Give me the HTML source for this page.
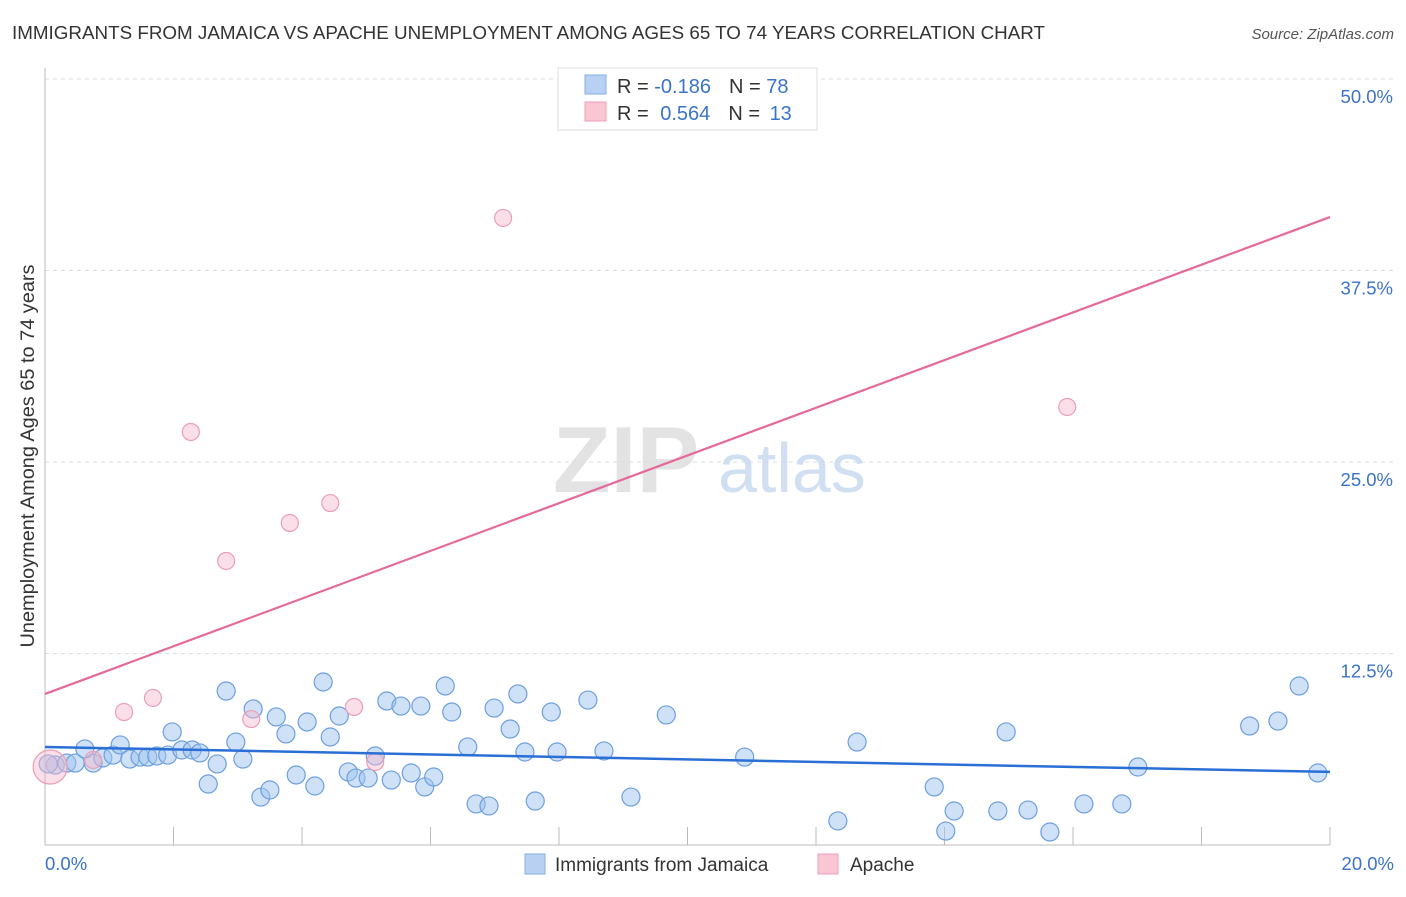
<!DOCTYPE html>
<html><head><meta charset="utf-8"><style>
body{margin:0;background:#fff;font-family:"Liberation Sans",sans-serif;}
svg text{font-family:"Liberation Sans",sans-serif;}
</style></head><body>
<svg id="chart" width="1406" height="892" viewBox="0 0 1406 892" xmlns="http://www.w3.org/2000/svg">
<text x="12" y="39" font-size="18.5" fill="#333" textLength="1033" lengthAdjust="spacingAndGlyphs">IMMIGRANTS FROM JAMAICA VS APACHE UNEMPLOYMENT AMONG AGES 65 TO 74 YEARS CORRELATION CHART</text>
<text x="1394" y="39" font-size="15" fill="#555" text-anchor="end" font-style="italic">Source: ZipAtlas.com</text>
<g id="grid"></g>
<text x="553" y="492" font-size="94" fill="#ddd" font-family="Liberation Serif" font-weight="bold" opacity="0.8">ZIP</text>
<text x="718" y="492" font-size="70" fill="#c6d8ef" opacity="0.8">atlas</text>
<text transform="translate(34,456) rotate(-90)" font-size="19" fill="#333" text-anchor="middle" textLength="383" lengthAdjust="spacingAndGlyphs">Unemployment Among Ages 65 to 74 years</text>
<g id="marks"></g>
<g>
<rect x="558" y="68" width="259" height="62" fill="#fff" stroke="#ddd"/>
<rect x="585" y="75" width="21" height="19" fill="#b8d1f3" stroke="#86aee6"/>
<rect x="585" y="102" width="21" height="19" fill="#f9c6d4" stroke="#ee9fb7"/>
<text x="617" y="93" font-size="20" fill="#333">R = <tspan fill="#3b73c9">-0.186</tspan><tspan dx="18">N = </tspan><tspan fill="#3b73c9">78</tspan></text>
<text x="617" y="120" font-size="20" fill="#333">R = <tspan fill="#3b73c9" dx="6">0.564</tspan><tspan dx="18">N = </tspan><tspan fill="#3b73c9" dx="4">13</tspan></text>
</g>
<g>
<rect x="525" y="854" width="20" height="20" fill="#b8d1f3" stroke="#86aee6"/>
<text x="555" y="871" font-size="19" fill="#333">Immigrants from Jamaica</text>
<rect x="818" y="854" width="20" height="20" fill="#f9c6d4" stroke="#ee9fb7"/>
<text x="850" y="871" font-size="19" fill="#333">Apache</text>
</g>
</svg>
<script>
const yTicks=[12.5,25,37.5,50];
const yTickLabels=["12.5%","25.0%","37.5%","50.0%"];
const xTickLabels=["0.0%","20.0%"];
const jamaicaX=[0.16,0.34,0.47,0.75,0.90,1.06,0.62,1.17,1.32,1.48,1.60,1.74,1.91,2.13,2.29,2.41,1.98,2.54,2.68,2.82,2.97,3.08,3.24,3.36,3.50,3.60,3.75,3.91,4.08,4.20,4.33,4.44,4.58,4.72,4.84,5.03,5.14,5.32,5.39,5.54,5.70,5.85,5.91,6.05,6.23,6.33,6.58,6.71,6.91,6.99,7.24,7.36,7.47,7.63,7.88,7.97,8.45,8.70,9.12,9.67,10.89,12.34,12.64,13.84,14.02,14.15,14.83,14.96,15.30,15.64,16.17,16.76,17.01,18.75,19.19,19.52,19.81,0.05];
const jamaicaY=[5.22,5.35,5.35,5.35,5.68,5.87,6.27,6.53,5.61,5.74,5.74,5.81,5.87,6.20,6.20,6.01,7.38,3.98,5.29,10.05,6.72,5.61,8.88,3.13,3.59,8.36,7.25,4.57,8.03,3.85,10.64,7.05,8.42,4.77,4.37,4.37,5.81,9.40,4.24,9.07,4.70,9.07,3.79,4.44,10.38,8.68,6.40,2.68,2.55,8.94,7.57,9.86,6.07,2.87,8.68,6.07,9.46,6.14,3.13,8.49,5.74,1.57,6.72,3.79,0.91,2.22,2.22,7.38,2.28,0.85,2.68,2.68,5.09,7.77,8.09,10.38,4.70,5.29];
const apacheX=[0.08,0.75,1.23,1.68,2.27,2.82,3.21,3.81,4.44,4.81,5.14,7.13,15.91];
const apacheY=[5.09,5.55,8.68,9.60,26.96,18.54,8.22,21.02,22.32,9.01,5.42,40.93,28.59];
const jamaicaTrend=[6.4,4.77];
const apacheTrend=[9.86,40.99];
const X0=45,X1=1330,Y0=845,Y1=79;
const sx=v=>X0+(v/20)*(X1-X0);
const sy=v=>Y0-(v/50)*(Y0-Y1);
const NS="http://www.w3.org/2000/svg";
const grid=document.getElementById('grid'),marks=document.getElementById('marks');
function mk(tag,attrs,parent){const e=document.createElementNS(NS,tag);for(const k in attrs)e.setAttribute(k,attrs[k]);parent.appendChild(e);return e;}
yTicks.forEach((t,i)=>{
 const l=mk('line',{x1:X0,x2:1394,y1:sy(t),y2:sy(t),stroke:'#ddd','stroke-dasharray':'4,4'},grid);
 
 
 const tx=mk('text',{x:1393,y:sy(t)+24,'font-size':18.5,fill:'#3b73c9','text-anchor':'end'},grid);
 tx.textContent=yTickLabels[i];
 
 
});
const ax=mk('line',{x1:X0,x2:X0,y1:68,y2:Y0,stroke:'#bbb'},grid);


const bx=mk('line',{x1:X0,x2:X1,y1:Y0,y2:Y0,stroke:'#bbb'},grid);


for(let i=1;i<=10;i++){
 const t=mk('line',{x1:sx(i*2),x2:sx(i*2),y1:Y0-18,y2:Y0,stroke:'#bbb'},grid);
 
 
}
[[0,'start',45],[20,'end',1394]].forEach((d,i)=>{
 const t=mk('text',{x:d[2],y:870,'font-size':18.5,fill:'#3b73c9','text-anchor':d[1]},grid);
 t.textContent=xTickLabels[i];
 
 
});
jamaicaX.forEach((x,i)=>{
 const c=mk('circle',{cx:sx(x),cy:sy(jamaicaY[i]),r:9,fill:'rgba(160,196,240,0.5)',stroke:'#6d9fe0','stroke-width':1.2},marks);
 
 
});
apacheX.forEach((x,i)=>{
 const c=mk('circle',{cx:sx(x),cy:sy(apacheY[i]),r:i===0?17:8.5,fill:'rgba(246,184,204,0.45)',stroke:'#ea9fb6','stroke-width':1.2},marks);
 
 
});
const bl=mk('line',{x1:sx(0),x2:sx(20),y1:sy(jamaicaTrend[0]),y2:sy(jamaicaTrend[1]),stroke:'#2a6fd6','stroke-width':2.5},marks);


const pl=mk('line',{x1:sx(0),x2:sx(20),y1:sy(apacheTrend[0]),y2:sy(apacheTrend[1]),stroke:'#e5699a','stroke-width':2.2},marks);


</script>
</body></html>
